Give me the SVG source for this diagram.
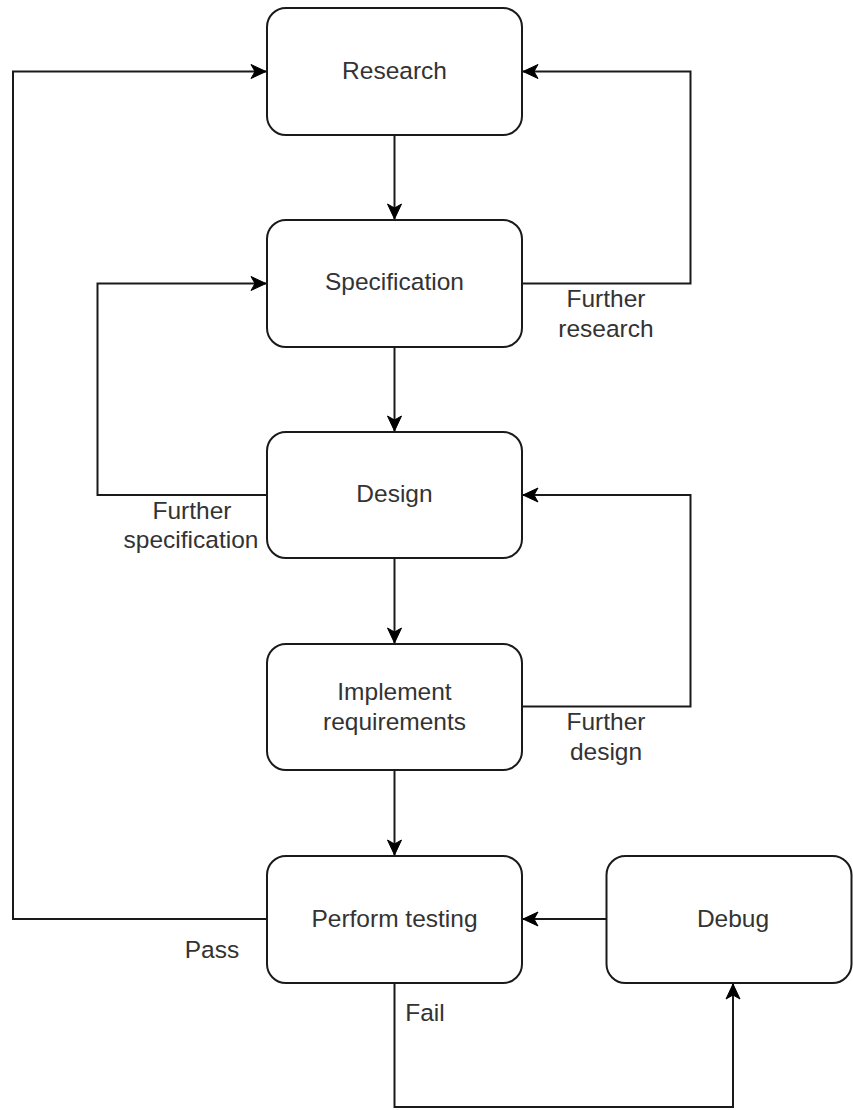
<svg xmlns="http://www.w3.org/2000/svg" width="853" height="1110" viewBox="0 0 853 1110">
<defs>
<marker id="arr" markerUnits="userSpaceOnUse" markerWidth="20" markerHeight="20" refX="16" refY="8" orient="auto" viewBox="0 0 20 16">
<path d="M16,8 L1,1 L5,8 L1,15 Z" fill="#000" stroke="#000" stroke-width="1" stroke-linejoin="miter"/>
</marker>
<style>
.box{fill:#fff;stroke:#1a1a1a;stroke-width:2}
.t{font-family:"Liberation Sans",Arial,sans-serif;font-size:24.5px;fill:#333;text-anchor:middle}
.c{fill:none;stroke:#1a1a1a;stroke-width:2}
</style>
</defs>
<rect width="853" height="1110" fill="#fff"/>
<g id="connectors">
<path class="c" d="M394.5,135 V219" marker-end="url(#arr)"/>
<path class="c" d="M394.5,347 V431" marker-end="url(#arr)"/>
<path class="c" d="M394.5,558 V643" marker-end="url(#arr)"/>
<path class="c" d="M394.5,770 V855" marker-end="url(#arr)"/>
<path class="c" d="M522,283.5 H690.5 V71.5 H523" marker-end="url(#arr)"/>
<path class="c" d="M267,495 H97.5 V283.5 H266" marker-end="url(#arr)"/>
<path class="c" d="M522,706.5 H690.5 V495 H523" marker-end="url(#arr)"/>
<path class="c" d="M267,919 H13 V71.5 H266" marker-end="url(#arr)"/>
<path class="c" d="M606.5,919 H523" marker-end="url(#arr)"/>
<path class="c" d="M394.5,983 V1107 H733 V984" marker-end="url(#arr)"/>
<text class="t" x="606" y="307">Further</text>
<text class="t" x="606" y="337">research</text>
<text class="t" x="192" y="519">Further</text>
<text class="t" x="191" y="548">specification</text>
<text class="t" x="606" y="730">Further</text>
<text class="t" x="606" y="760">design</text>
<text class="t" x="212" y="958">Pass</text>
<text class="t" x="425" y="1021">Fail</text>
</g>
<g id="research"><rect class="box" x="267" y="8" width="255" height="127" rx="19"/><text class="t" x="394.5" y="79">Research</text></g>
<g id="specification"><rect class="box" x="267" y="220" width="255" height="127" rx="19"/><text class="t" x="394.5" y="290">Specification</text></g>
<g id="design"><rect class="box" x="267" y="432" width="255" height="126" rx="19"/><text class="t" x="394.5" y="502">Design</text></g>
<g id="implement"><rect class="box" x="267" y="644" width="255" height="126" rx="19"/><text class="t" x="394.5" y="700">Implement</text><text class="t" x="394.5" y="730">requirements</text></g>
<g id="testing"><rect class="box" x="267" y="856" width="255" height="127" rx="19"/><text class="t" x="394.5" y="927">Perform testing</text></g>
<g id="debug"><rect class="box" x="606.5" y="856" width="245" height="127" rx="19"/><text class="t" x="733" y="927">Debug</text></g>
</svg>
